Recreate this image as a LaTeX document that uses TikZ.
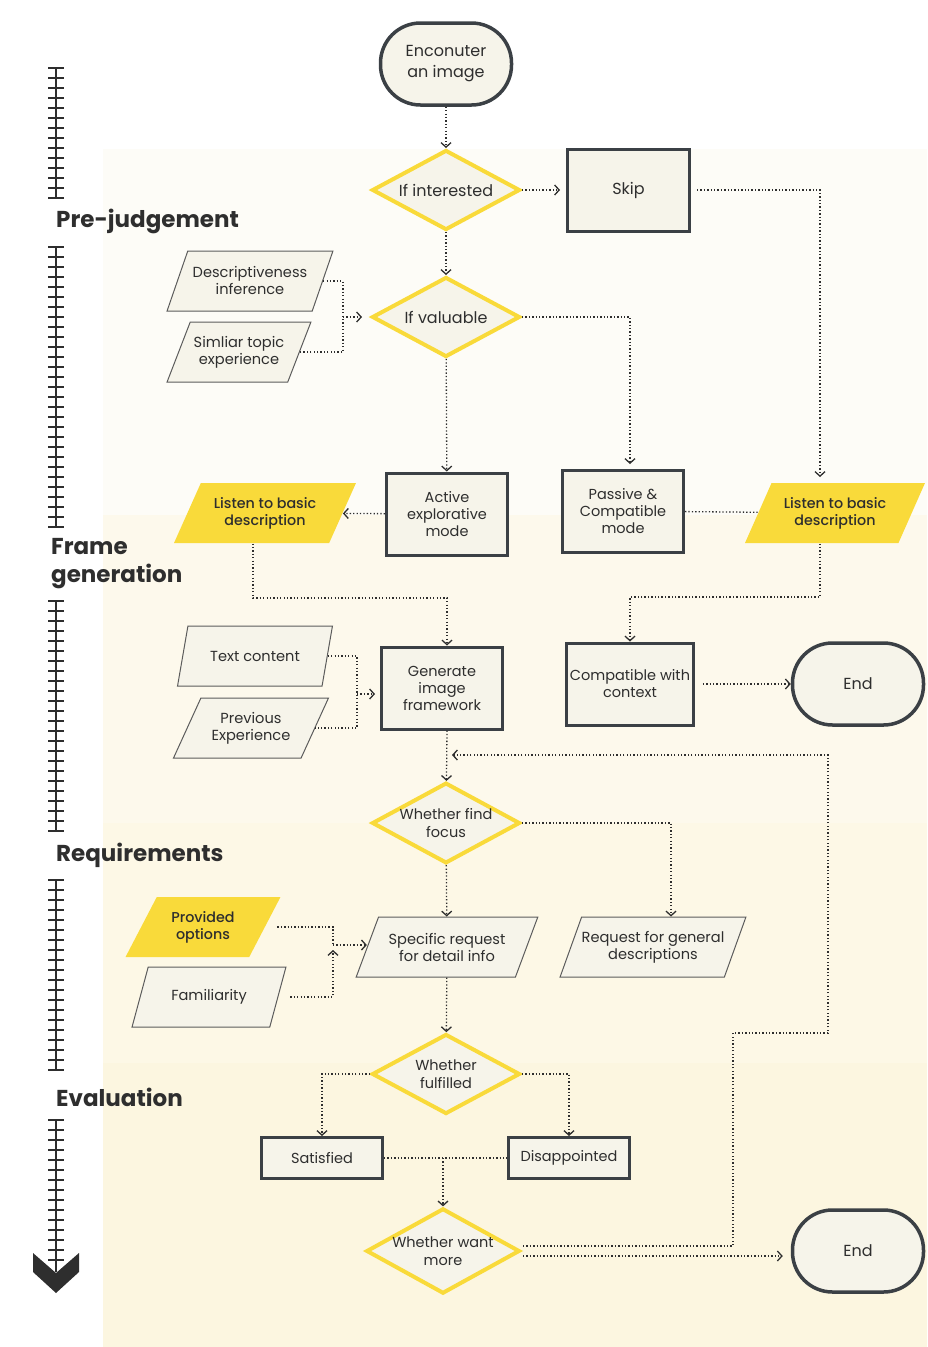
\documentclass[tikz,border=0pt]{standalone}
\usepackage{fontspec}
\setmainfont{Poppins}
\newfontfamily\medfont{Poppins Medium}
\usetikzlibrary{positioning,shapes.geometric,arrows.meta}

\definecolor{ink}{HTML}{2E2E2E}
\definecolor{edgegray}{HTML}{3B4045}
\definecolor{paper}{HTML}{F6F4EA}
\definecolor{sun}{HTML}{F9DA3A}
\definecolor{slate}{HTML}{5C5C5C}
\definecolor{bandA}{HTML}{FDFCF7}
\definecolor{bandB}{HTML}{FDF9EC}
\definecolor{bandC}{HTML}{FDF8E6}
\definecolor{bandD}{HTML}{FCF6E0}

\tikzset{
  link/.style={draw=ink, line width=1.3pt, dash pattern=on 1.3pt off 2.1pt},
  flow/.style={link, -{Straight Barb[length=4.5pt,width=10pt]}},
  rail/.style={draw=ink, line width=1.5pt},
  stage/.style={anchor=west, inner sep=0pt, text=ink, font=\bfseries\fontsize{23}{28}\selectfont, align=left},
  terminal/.style={rectangle, rounded corners=40pt, draw=edgegray, line width=3.5pt, fill=paper,
    minimum width=131pt, minimum height=82pt, align=center, text=ink, font=\fontsize{16}{21}\selectfont},
  decision/.style={diamond, aspect=1.8, draw=sun, line width=4pt, fill=paper, inner sep=0pt,
    minimum width=148pt, minimum height=80pt, align=center, text=ink, font=\fontsize{14.5}{18}\selectfont},
  process/.style={rectangle, draw=edgegray, line width=3pt, fill=paper,
    minimum width=121pt, minimum height=82pt, align=center, text=ink, font=\fontsize{14.5}{17}\selectfont},
  datain/.style={trapezium, trapezium left angle=56, trapezium right angle=124, trapezium stretches=true,
    draw=slate, line width=1pt, fill=paper, inner sep=0pt, minimum width=155pt, minimum height=60pt,
    align=center, text=ink, font=\fontsize{14.6}{17}\selectfont},
  keyin/.style={datain, draw=none, fill=sun, font=\medfont\fontsize{14.3}{17}\selectfont},
}

\begin{document}
\begin{tikzpicture}[x=1pt,y=-1pt]
  \useasboundingbox (0,0) rectangle (927,1347);

  % stage bands
  \fill[bandA] (103,149) rectangle (927,515);
  \fill[bandB] (103,515) rectangle (927,823);
  \fill[bandC] (103,823) rectangle (927,1063);
  \fill[bandD] (103,1063) rectangle (927,1347);

  % timeline
  \foreach \a/\n in {68/13, 247/28, 601/23, 880/19, 1120/14} {
    \draw[rail] (56,\a) -- (56,\a+10*\n);
    \foreach \k in {0,...,\n}
      \draw[rail] (48,\a+10*\k) -- (64,\a+10*\k);
  }
  \draw[rail] (56,1260) -- (56,1272);
  \fill[ink] (33,1253) -- (56,1273) -- (79,1253) -- (79,1272) -- (56,1293) -- (33,1272) -- cycle;

  \node[stage] (hPre) at (56,221) {Pre-judgement};
  \node[stage] (hFrame) at (51,564) {Frame\\generation};
  \node[stage] (hReq) at (56,855) {Requirements};
  \node[stage] (hEval) at (56,1097) {Evaluation};

  % pre-judgement
  \node[terminal] (start) at (446,64) {Enconuter\\an image};
  \node[decision, font=\fontsize{16}{19}\selectfont] (qInterest) at (446,190) {If interested};
  \node[process, minimum width=122pt, font=\fontsize{16}{19}\selectfont, right=44pt of qInterest] (skip) {Skip};
  \node[decision, font=\fontsize{16}{19}\selectfont] (qValue) at (446,317) {If valuable};
  \node[datain, minimum width=166pt] (descInf) at (250,281) {Descriptiveness\\inference};
  \node[datain, minimum width=144pt] (simTopic) at (239,352) {Simliar topic\\experience};

  % frame generation
  \node[process] (active) at (447,514) {Active\\explorative\\mode};
  \node[process] (passive) at (623,511) {Passive \&\\Compatible\\mode};
  \node[keyin, minimum width=182pt] (listenL) at (265,513) {Listen to basic\\description};
  \node[keyin, minimum width=180pt] (listenR) at (835,513) {Listen to basic\\description};
  \node[datain] (textIn) at (255,656) {Text content};
  \node[datain] (prevExp) at (251,728) {Previous\\Experience};
  \node[process] (frame) at (442,688) {Generate\\image\\framework};
  \node[process] (compat) at (630,684) {Compatible with\\context};
  \node[terminal] (endA) at (858,684) {End};

  % requirements
  \node[decision] (qFocus) at (446,823) {Whether find\\focus};
  \node[datain, minimum width=182pt] (reqDetail) at (447,947) {Specific request\\for detail info};
  \node[datain, minimum width=182pt] (reqGeneral) at (653,947) {Request for general\\descriptions};
  \node[keyin] (options) at (203,927) {Provided\\options};
  \node[datain] (famil) at (209,997) {Familiarity};

  % evaluation
  \node[decision] (qFulfil) at (446,1074) {Whether\\fulfilled};
  \node[process, minimum height=41pt] (satis) at (322,1158) {Satisfied};
  \node[process, minimum height=41pt] (disap) at (569,1158) {Disappointed};
  \node[decision, minimum width=152pt, minimum height=83pt] (qMore) at (443,1251) {Whether want\\more};
  \node[terminal] (endB) at (858,1251) {End};

  \coordinate (jSkip) at (820,477);
  \coordinate (jPass) at (630,464);
  \coordinate (jPre) at (343,317);
  \coordinate (jGen) at (447,598);
  \coordinate (jComp) at (630,597);
  \coordinate (jFrame) at (357,694);
  \coordinate (jReq) at (333,945);
  \coordinate (jFam) at (333,950);
  \coordinate (jEval) at (443,1158);
  \coordinate (loopA) at (523,1246);
  \coordinate (loopB) at (733,1033);
  \coordinate (loopC) at (828,755);
  \coordinate (loopD) at (452,755);
  \coordinate (quitA) at (523,1256);

  % connectors
  \draw[flow] (start) -- (qInterest);
  \draw[flow, shorten >=6pt] (qInterest) -- (skip);
  \draw[flow] (qInterest) -- (qValue);
  \draw[flow] ([xshift=6pt]skip.east) -| (jSkip);
  \draw[link] (descInf.east) -| (jPre) |- (simTopic.east);
  \draw[flow, shorten >=8pt] (jPre) -- (qValue);
  \draw[flow] (qValue.east) -| (jPass);
  \draw[flow] (qValue) -- (active);
  \draw[flow] (active) -- (listenL);
  \draw[link] (passive) -- (listenR);
  \draw[flow] ([xshift=-12pt]listenL.south) |- (jGen) -- (jGen |- frame.north);
  \draw[flow] ([xshift=-15pt]listenR.south) |- (jComp) -- (compat.north);
  \draw[link] (textIn.east) -| (jFrame) |- (prevExp.east);
  \draw[flow, shorten >=5pt] (jFrame) -- (jFrame -| frame.west);
  \draw[flow, shorten <=8pt] (compat.east) -- (endA);
  \draw[flow] (jGen |- frame.south) -- (qFocus);
  \draw[flow] (qFocus.east) -| ([xshift=18pt]reqGeneral.north);
  \draw[flow] (qFocus) -- (reqDetail);
  \draw[link, shorten <=12pt] (options.east) -| (jReq);
  \draw[flow, shorten <=12pt] (famil.east) -| (jFam);
  \draw[flow] (jReq) -- (jReq -| reqDetail.west);
  \draw[flow] (reqDetail) -- (qFulfil);
  \draw[flow] (qFulfil.west) -| (satis.north);
  \draw[flow] (qFulfil.east) -| (disap.north);
  \draw[link] (satis) -- (disap);
  \draw[flow] (jEval) -- (qMore);
  \draw[flow] (loopA) -| (loopB) -| (loopC) -- (loopD);
  \draw[flow, shorten >=8pt] (quitA) -- (quitA -| endB.west);
\end{tikzpicture}
\end{document}
